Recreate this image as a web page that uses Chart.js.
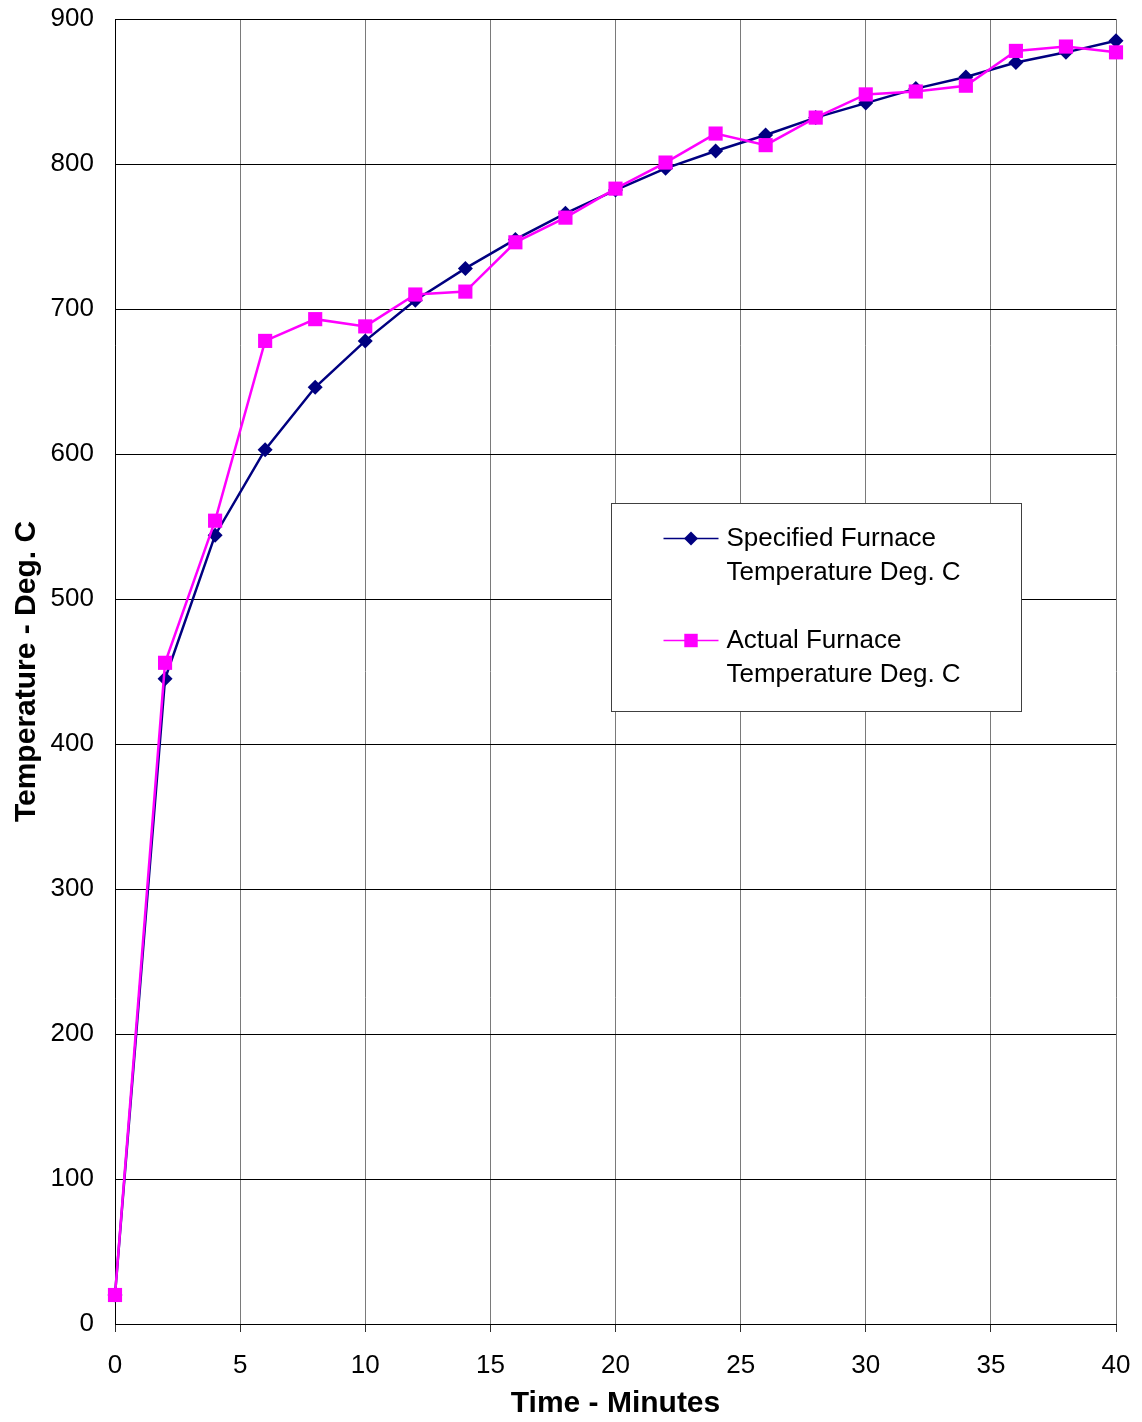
<!DOCTYPE html>
<html>
<head>
<meta charset="utf-8">
<title>Furnace Temperature</title>
<script src="https://cdn.jsdelivr.net/npm/chart.js@4/dist/chart.umd.min.js"></script>
<style>
  html, body { margin: 0; padding: 0; background: #ffffff; }
  canvas { display: block; }
</style>
</head>
<body>
<canvas id="chart" width="1142" height="1422"></canvas>
<script>
// Time in minutes
const minutes = [0, 2, 4, 6, 8, 10, 12, 14, 16, 18, 20, 22, 24, 26, 28, 30, 32, 34, 36, 38, 40];

// Specified furnace curve, deg C
const specifiedTemp = [20, 445, 544, 603, 646, 678, 706, 728, 748, 766, 782, 797, 809, 820, 832, 842, 852, 860, 870, 877, 885];

// Measured furnace temperature, deg C
const actualTemp = [20, 456, 554, 678, 693, 688, 710, 712, 746, 763, 783, 801, 821, 813, 832, 848, 850, 854, 878, 881, 877];

const specifiedLabel = ['Specified Furnace', 'Temperature Deg. C'];
const actualLabel = ['Actual Furnace', 'Temperature Deg. C'];

const xTitle = 'Time - Minutes';
const yTitle = 'Temperature - Deg. C';

const FONT = '"Liberation Sans", Arial, sans-serif';

function points(xs, ys) {
  return xs.map((x, i) => ({ x: x, y: ys[i] }));
}

// Boxed legend drawn inside the plot area
const boxedLegend = {
  id: 'boxedLegend',
  afterDraw(chart) {
    const ctx = chart.ctx;
    const x = chart.scales.x;
    const y = chart.scales.y;
    // anchor the box in data space
    const left = Math.round(x.getPixelForValue(19.82)) + 0.5;
    const right = Math.round(x.getPixelForValue(36.2)) + 0.5;
    const top = Math.round(y.getPixelForValue(566.2)) + 0.5;
    const bottom = Math.round(y.getPixelForValue(422.8)) + 0.5;
    ctx.save();
    ctx.fillStyle = '#ffffff';
    ctx.fillRect(left, top, right - left, bottom - top);
    ctx.strokeStyle = '#404040';
    ctx.lineWidth = 1;
    ctx.strokeRect(left, top, right - left, bottom - top);

    ctx.font = '26px ' + FONT;
    ctx.textBaseline = 'middle';
    ctx.textAlign = 'left';
    [0, 1].forEach((di) => {
      const ds = chart.data.datasets[di];
      const rowTop = top + 35 + di * 102;
      const sx0 = left + 52, sx1 = left + 107, sc = (sx0 + sx1) / 2;
      ctx.strokeStyle = ds.borderColor;
      ctx.lineWidth = 1.5;
      ctx.beginPath();
      ctx.moveTo(sx0, rowTop);
      ctx.lineTo(sx1, rowTop);
      ctx.stroke();
      ctx.fillStyle = ds.pointBackgroundColor;
      Chart.helpers.drawPoint(ctx, {
        pointStyle: ds.pointStyle,
        radius: ds.legendRadius,
        borderWidth: 0,
        rotation: 0
      }, sc, rowTop);
      ctx.fillStyle = '#000000';
      ds.legendText.forEach((line, li) => {
        ctx.fillText(line, left + 115, rowTop + li * 34);
      });
    });
    ctx.restore();
  }
};

new Chart(document.getElementById('chart'), {
  type: 'line',
  data: {
    datasets: [
      {
        label: specifiedLabel.join(' '),
        legendText: specifiedLabel,
        data: points(minutes, specifiedTemp),
        borderColor: '#000080',
        backgroundColor: '#000080',
        pointBackgroundColor: '#000080',
        pointBorderColor: '#000080',
        pointBorderWidth: 0,
        borderWidth: 2.5,
        pointStyle: 'rectRot',
        pointRadius: 7.5,
        legendRadius: 7,
        tension: 0,
        order: 1
      },
      {
        label: actualLabel.join(' '),
        legendText: actualLabel,
        data: points(minutes, actualTemp),
        borderColor: '#ff00ff',
        backgroundColor: '#ff00ff',
        pointBackgroundColor: '#ff00ff',
        pointBorderColor: '#ff00ff',
        pointBorderWidth: 0,
        borderWidth: 2.5,
        pointStyle: 'rect',
        pointRadius: 10,
        legendRadius: 9.5,
        tension: 0,
        order: 0
      }
    ]
  },
  options: {
    responsive: false,
    animation: false,
    clip: false,
    layout: { padding: { left: 0, right: 26, top: 19, bottom: 0 } },
    plugins: {
      legend: { display: false },
      tooltip: { enabled: false }
    },
    scales: {
      x: {
        type: 'linear',
        min: 0,
        max: 40,
        afterFit(scale) {
          scale.height = 98;
          scale.paddingLeft = 0;
          scale.paddingRight = 0;
        },
        ticks: {
          stepSize: 5,
          color: '#000000',
          padding: 18,
          maxRotation: 0,
          font: { family: FONT, size: 26 }
        },
        grid: {
          color: '#7a7a7a',
          lineWidth: 1,
          drawTicks: true,
          tickLength: 8,
          tickColor: '#303030'
        },
        border: { color: '#000000', width: 1 },
        title: {
          display: true,
          text: xTitle,
          color: '#000000',
          padding: { top: 0, bottom: 0 },
          font: { family: FONT, size: 30, weight: 'bold' }
        }
      },
      y: {
        type: 'linear',
        min: 0,
        max: 900,
        afterFit(scale) {
          scale.width = 115;
          scale.paddingTop = 0;
          scale.paddingBottom = 0;
        },
        ticks: {
          stepSize: 100,
          color: '#000000',
          padding: 21,
          font: { family: FONT, size: 26 }
        },
        grid: {
          color: '#000000',
          lineWidth: 1,
          drawTicks: false
        },
        border: { color: '#000000', width: 1 },
        title: {
          display: true,
          text: yTitle,
          color: '#000000',
          padding: { top: 9, bottom: 0 },
          font: { family: FONT, size: 30, weight: 'bold' }
        }
      }
    }
  },
  plugins: [boxedLegend]
});
</script>
</body>
</html>
